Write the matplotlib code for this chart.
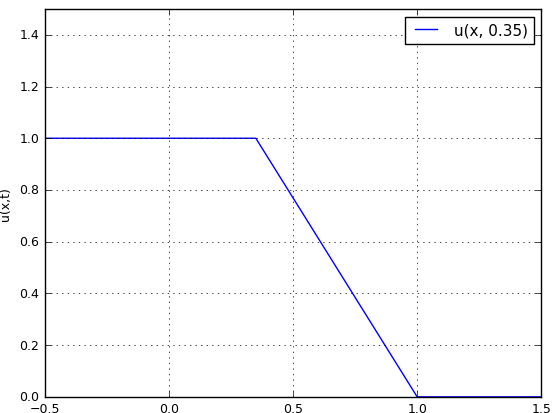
import matplotlib
matplotlib.use("Agg")
import matplotlib.pyplot as plt

# piecewise solution at t = 0.35
x_vals = [-0.5, 0.35, 1.0, 1.5]
u_vals = [1.0, 1.0, 0.0, 0.0]
label = "u(x, 0.35)"

plt.style.use("classic")
fig = plt.figure(figsize=(5.54, 4.14), dpi=100, facecolor="white")
ax = fig.add_axes([0.081, 0.039, 0.896, 0.937])
ax.plot(x_vals, u_vals, color="blue", label=label)
ax.set_xlim(-0.5, 1.5)
ax.set_ylim(0, 1.5)
ax.set_xticks([-0.5, 0.0, 0.5, 1.0, 1.5])
ax.set_yticks([0.0, 0.2, 0.4, 0.6, 0.8, 1.0, 1.2, 1.4])
ax.tick_params(labelsize=9)
ax.set_ylabel("u(x,t)", fontsize=9)
ax.grid(True, linestyle=":", color="black")
ax.legend(loc="upper right", fontsize=11)
fig.savefig("out.png", dpi=100, facecolor="white")
